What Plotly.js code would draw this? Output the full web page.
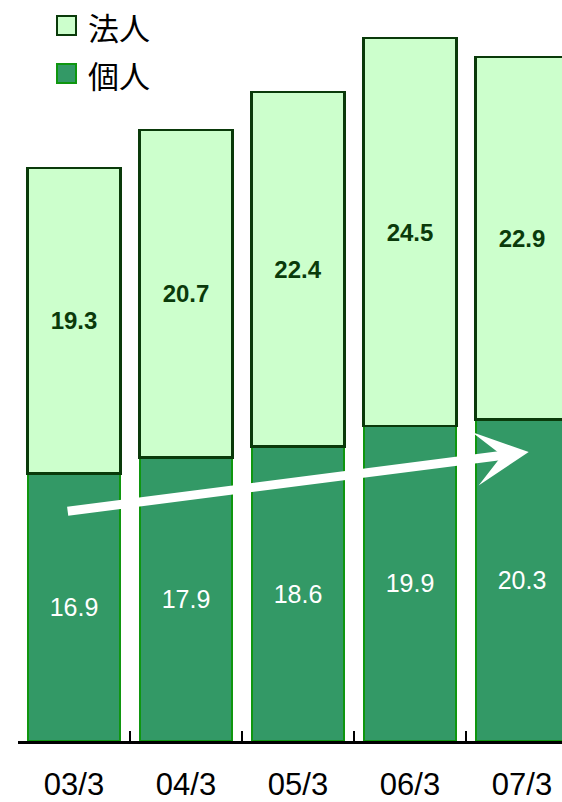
<!DOCTYPE html>
<html>
<head>
<meta charset="utf-8">
<script src="https://cdn.plot.ly/plotly-3.0.1.min.js"></script>
<style>html,body{margin:0;padding:0;background:#fff;}#chart{width:562px;height:802px;}</style>
</head>
<body>
<div id="chart"></div>
<script>
var categories = ['03/3', '04/3', '05/3', '06/3', '07/3'];
var kojin = [16.9, 17.9, 18.6, 19.9, 20.3];   // 個人
var hojin = [19.3, 20.7, 22.4, 24.5, 22.9];   // 法人
var seriesNames = ['法人', '個人'];

var lightFill = '#CCFFCC', lightLine = '#0a3a0a';
var darkFill = '#339966', darkLine = '#0f960f';

var traces = [
  {
    type: 'bar', name: seriesNames[1], x: categories, y: kojin,
    width: 0.83,
    marker: {color: darkFill, line: {color: darkLine, width: 2}},
    text: kojin.map(function(v){return v.toFixed(1);}),
    textposition: 'inside', insidetextanchor: 'middle', textangle: 0,
    constraintext: 'none',
    textfont: {family: 'Liberation Sans, Arial, sans-serif', size: 25, color: '#ffffff'},
    hoverinfo: 'none', showlegend: false
  },
  {
    type: 'bar', name: seriesNames[0], x: categories, y: hojin,
    width: 0.83,
    marker: {color: lightFill, line: {color: lightLine, width: 2.5}},
    text: hojin.map(function(v){return '<b>' + v.toFixed(1) + '</b>';}),
    textposition: 'inside', insidetextanchor: 'middle', textangle: 0,
    constraintext: 'none',
    textfont: {family: 'Liberation Sans, Arial, sans-serif', size: 24, color: '#0a3a0a'},
    hoverinfo: 'none', showlegend: false
  }
];

var W = 562, H = 802, mL = 18, mB = 61;
var plotW = W - mL, plotH = H - mB;
var catPx = 112;
var xr = [-0.5, -0.5 + plotW / catPx];
var pxPerUnit = 15.83;
var yr = [0, plotH / pxPerUnit];

function px2paperX(p){ return (p - mL) / plotW; }
function px2paperY(p){ return (plotH - p) / plotH; }

var shapes = [
  {type: 'rect', xref: 'paper', yref: 'paper', x0: px2paperX(57), x1: px2paperX(76), y0: px2paperY(35), y1: px2paperY(16),
   fillcolor: lightFill, line: {color: lightLine, width: 2}},
  {type: 'rect', xref: 'paper', yref: 'paper', x0: px2paperX(57), x1: px2paperX(76), y0: px2paperY(83), y1: px2paperY(64),
   fillcolor: darkFill, line: {color: darkLine, width: 2}}
];

var cjk = 'Noto Sans CJK JP, sans-serif';
var annotations = [
  {xref: 'paper', yref: 'paper', x: px2paperX(86), y: px2paperY(26), xanchor: 'left', yanchor: 'middle',
   text: seriesNames[0], showarrow: false, font: {family: cjk, size: 31, color: '#000'}},
  {xref: 'paper', yref: 'paper', x: px2paperX(86), y: px2paperY(74), xanchor: 'left', yanchor: 'middle',
   text: seriesNames[1], showarrow: false, font: {family: cjk, size: 31, color: '#000'}},
  {xref: 'x', yref: 'y', axref: 'x', ayref: 'y',
   x: 4.06, y: 18.26, ax: -0.07, ay: 14.5,
   text: '', showarrow: true, arrowhead: 3, arrowsize: 1.0, arrowwidth: 9, arrowcolor: '#ffffff', standoff: 0}
];

var layout = {
  width: W, height: H,
  margin: {l: mL, r: 0, t: 0, b: mB, pad: 0},
  paper_bgcolor: '#ffffff', plot_bgcolor: '#ffffff',
  barmode: 'stack',
  showlegend: false,
  font: {family: 'Liberation Sans, Arial, sans-serif'},
  xaxis: {
    type: 'category', range: xr, fixedrange: true,
    tickson: 'boundaries', ticks: 'inside', ticklen: 10, tickwidth: 2, tickcolor: '#000',
    showline: true, linecolor: '#000', linewidth: 3,
    showgrid: false, zeroline: false,
    tickfont: {family: 'Liberation Sans, Arial, sans-serif', size: 31, color: '#000'},
    ticklabelstandoff: 14
  },
  yaxis: {
    range: yr, visible: false, showgrid: false, zeroline: false, fixedrange: true
  },
  shapes: shapes,
  annotations: annotations
};

Plotly.newPlot('chart', traces, layout, {displayModeBar: false, staticPlot: true});
</script>
</body>
</html>
